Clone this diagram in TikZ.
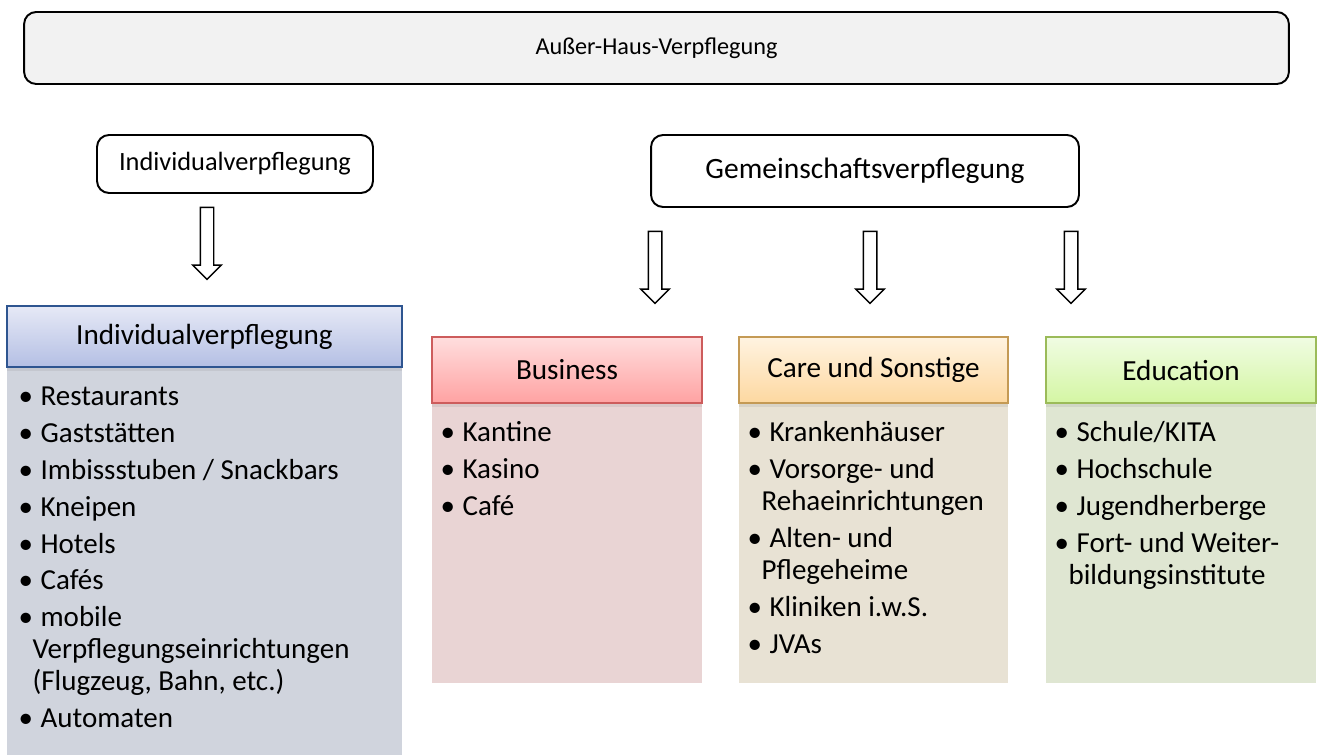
\documentclass[tikz,border=0pt]{standalone}
\usepackage{fontspec}
\setmainfont{Carlito}
\usetikzlibrary{positioning,shapes.arrows,shadows}
\definecolor{topfill}{HTML}{F2F2F2}
\definecolor{indline}{HTML}{2E5590}
\definecolor{indtop}{HTML}{E6E9F6}
\definecolor{indbot}{HTML}{B4BFE4}
\definecolor{indbody}{HTML}{D0D4DD}
\definecolor{bizline}{HTML}{CD5C5C}
\definecolor{biztop}{HTML}{FFDEDE}
\definecolor{bizbot}{HTML}{FFA2A2}
\definecolor{bizbody}{HTML}{E9D4D4}
\definecolor{careline}{HTML}{C49A55}
\definecolor{caretop}{HTML}{FFF3E1}
\definecolor{carebot}{HTML}{FDD8A0}
\definecolor{carebody}{HTML}{E8E2D4}
\definecolor{eduline}{HTML}{9BBB59}
\definecolor{edutop}{HTML}{F0FCE3}
\definecolor{edubot}{HTML}{D4F6A3}
\definecolor{edubody}{HTML}{DFE6D2}
\newcommand{\itm}{\makebox[0.44cm][l]{\textbullet}}
\newcommand{\wrp}{\hspace*{0.28cm}}

\begin{document}
\begin{tikzpicture}[x=0.02cm,y=-0.02cm,
  topbox/.style={rectangle,rounded corners=0.24cm,draw,line width=1.1pt,inner sep=0pt,font=\fontsize{15}{18}\selectfont},
  headbox/.style={rectangle,draw,line width=0.9pt,inner sep=0pt,font=\fontsize{16.6}{20}\selectfont,
    drop shadow={shadow xshift=0pt,shadow yshift=-2pt,opacity=0.15}},
  bodybox/.style={rectangle,inner sep=0pt},
  itemlist/.style={align=left,inner sep=0pt,anchor=north west,font=\fontsize{16.5}{18.2}\selectfont},
  hollow/.style={single arrow,draw,line width=0.85pt,rotate=-90,minimum height=1.44cm,
    inner xsep=0pt,inner ysep=0.12cm,single arrow head extend=0.15cm}]
\useasboundingbox (0,0) rectangle (1318,756);

% top level
\node (ahv) [topbox,fill=topfill,minimum width=25.3cm,minimum height=1.44cm,font=\fontsize{13.8}{17}\selectfont] at (656.5,48) {Außer-Haus-Verpflegung};
\node (indiv) [topbox,fill=white,minimum width=5.52cm,minimum height=1.16cm] at (235,164) {Individualverpflegung};
\node (gemein) [topbox,fill=white,minimum width=8.56cm,minimum height=1.44cm,font=\fontsize{16.8}{20}\selectfont] at (865,171) {Gemeinschaftsverpflegung};

% hollow arrows
\node (arrInd) [hollow] at (207,240) {};
\node (arrBiz) [hollow] at (655,264) {};
\node (arrCare) [hollow] at (870,264) {};
\node (arrEdu) [hollow] at (1071,264) {};

% bodies
\node (indBody) [bodybox,fill=indbody,minimum width=7.9cm,minimum height=7.76cm] at (204.5,561) {};
\node (bizBody) [bodybox,fill=bizbody,minimum width=5.4cm,minimum height=5.6cm] at (567,543) {};
\node (careBody) [bodybox,fill=carebody,minimum width=5.38cm,minimum height=5.6cm] at (873.5,543) {};
\node (eduBody) [bodybox,fill=edubody,minimum width=5.4cm,minimum height=5.6cm] at (1181,543) {};

% headers
\node (indHead) [headbox,draw=indline,top color=indtop,bottom color=indbot,minimum width=7.9cm,minimum height=1.22cm] at (204.5,336.5) {Individualverpflegung};
\node (bizHead) [headbox,draw=bizline,top color=biztop,bottom color=bizbot,minimum width=5.4cm,minimum height=1.32cm] at (567,370) {Business};
\node (careHead) [headbox,draw=careline,top color=caretop,bottom color=carebot,minimum width=5.38cm,minimum height=1.32cm] at (873.5,370) {Care und Sonstige};
\node (eduHead) [headbox,draw=eduline,top color=edutop,bottom color=edubot,minimum width=5.4cm,minimum height=1.32cm] at (1181,370) {Education};

% lists
\node (indList) [itemlist] at ([shift={(0.24cm,-0.3cm)}]indHead.south west)
  {\strut\itm Restaurants\\[2.8pt]
   \itm Gaststätten\\[2.8pt]
   \itm Imbissstuben / Snackbars\\[2.8pt]
   \itm Kneipen\\[2.8pt]
   \itm Hotels\\[2.8pt]
   \itm Cafés\\[2.8pt]
   \itm mobile\\
   \wrp Verpflegungseinrichtungen\\
   \wrp (Flugzeug, Bahn, etc.)\\[2.8pt]
   \itm Automaten};
\node (bizList) [itemlist] at ([shift={(0.18cm,-0.3cm)}]bizHead.south west)
  {\strut\itm Kantine\\[2.8pt]
   \itm Kasino\\[2.8pt]
   \itm Café};
\node (careList) [itemlist] at ([shift={(0.18cm,-0.3cm)}]careHead.south west)
  {\strut\itm Krankenhäuser\\[2.8pt]
   \itm Vorsorge- und\\
   \wrp Rehaeinrichtungen\\[2.8pt]
   \itm Alten- und\\
   \wrp Pflegeheime\\[2.8pt]
   \itm Kliniken i.w.S.\\[2.8pt]
   \itm JVAs};
\node (eduList) [itemlist] at ([shift={(0.18cm,-0.3cm)}]eduHead.south west)
  {\strut\itm Schule/KITA\\[2.8pt]
   \itm Hochschule\\[2.8pt]
   \itm Jugendherberge\\[2.8pt]
   \itm Fort- und Weiter-\\
   \wrp bildungsinstitute};
\end{tikzpicture}
\end{document}
